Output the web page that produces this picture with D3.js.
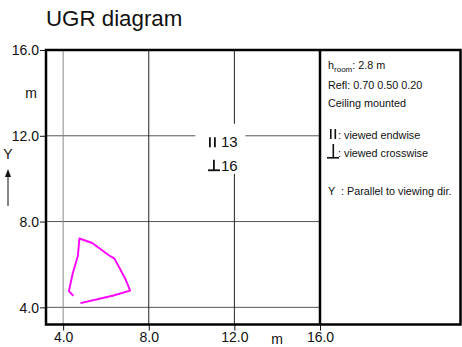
<!DOCTYPE html>
<html>
<head>
<meta charset="utf-8">
<script src="https://cdn.jsdelivr.net/npm/d3@7"></script>
<style>
  body { margin: 0; background: #fff; }
  svg { display: block; font-family: "Liberation Sans", Arial, sans-serif; }
</style>
</head>
<body>
<div class="ugr"></div>
<script>
// axis ticks (m)
const xTicks = [4, 8, 12, 16];
const yTicks = [4, 8, 12, 16];
// contour of the luminaire (open polyline), in m
const contourX = [4.48, 4.27, 4.45, 4.69, 4.76, 5.36, 6.12, 6.40, 6.91, 7.13, 6.31, 4.81];
const contourY = [4.53, 4.76, 5.59, 6.41, 7.21, 7.00, 6.44, 6.27, 5.32, 4.78, 4.54, 4.20];
// UGR values: endwise / crosswise
const ugrValues = [13, 16];
// info panel
const infoLines = ["Refl: 0.70 0.50 0.20", "Ceiling mounted"];
const legendLines = [": viewed endwise", ": viewed crosswise"];

let svgWidth = 462, svgHeight = 347;
let svg = d3.select(".ugr").append("svg")
  .attr("width", svgWidth)
  .attr("height", svgHeight);

let x = d3.scaleLinear().domain([3.2, 16]).range([46, 320]);
let y = d3.scaleLinear().domain([3.2, 16]).range([324.5, 50]);

// title
svg.append("text")
  .attr("x", 46).attr("y", 26)
  .attr("font-size", 22.3)
  .attr("fill", "#111")
  .text("UGR diagram");

// grid
svg.selectAll(".hgrid")
  .data(yTicks.filter(d => d < 16))
  .enter().append("line")
  .attr("x1", x(3.2)).attr("x2", x(16))
  .attr("y1", d => y(d)).attr("y2", d => y(d))
  .attr("stroke", "#555").attr("stroke-width", 1);
svg.selectAll(".vgrid")
  .data(xTicks.filter(d => d < 16))
  .enter().append("line")
  .attr("x1", d => x(d)).attr("x2", d => x(d))
  .attr("y1", y(16)).attr("y2", y(3.2))
  .attr("stroke", d => d === 4 ? "#888" : "#222").attr("stroke-width", 1);

// white box behind ugr labels
svg.append("rect")
  .attr("x", x(12) - 39).attr("y", y(12) - 12)
  .attr("width", 50).attr("height", 50)
  .attr("fill", "#fff");

// contour
let line = d3.line().x(d => x(d[0])).y(d => y(d[1]));
svg.append("path")
  .datum(contourX.map((d, i) => [d, contourY[i]]))
  .attr("d", line)
  .attr("fill", "none")
  .attr("stroke", "#ff00ff")
  .attr("stroke-width", 1.9)
  .attr("stroke-linejoin", "round");

// ugr labels
let ug = svg.append("g").attr("font-size", 15).attr("fill", "#111");
ugrValues.forEach(function (v, i) {
  let yy = y(12) + 11.5 + i * 23.5;
  if (i === 0) {
    ug.append("rect").attr("x", 209).attr("y", yy - 10).attr("width", 1.8).attr("height", 10).attr("fill", "#111");
    ug.append("rect").attr("x", 214).attr("y", yy - 10).attr("width", 1.8).attr("height", 10).attr("fill", "#111");
  } else {
    ug.append("rect").attr("x", 213).attr("y", yy - 11).attr("width", 1.8).attr("height", 11).attr("fill", "#111");
    ug.append("rect").attr("x", 208).attr("y", yy - 1.4).attr("width", 12).attr("height", 1.8).attr("fill", "#111");
  }
  ug.append("text").attr("x", 221).attr("y", yy).text(v);
});

// axes
let axisLeft = svg.append("g")
  .attr("transform", "translate(" + x(3.2) + ",0)")
  .call(d3.axisLeft(y).tickValues(yTicks).tickFormat(d3.format(".1f")).tickSize(6).tickSizeOuter(0));
let axisBottom = svg.append("g")
  .attr("transform", "translate(0," + y(3.2) + ")")
  .call(d3.axisBottom(x).tickValues(xTicks).tickFormat(d3.format(".1f")).tickSize(6).tickSizeOuter(0));
[axisLeft, axisBottom].forEach(function (a) {
  a.select(".domain").remove();
  a.selectAll("text").attr("font-size", 14).attr("fill", "#111")
    .attr("font-family", "'Liberation Sans', Arial, sans-serif");
  a.selectAll("line").attr("stroke", "#111");
});
axisLeft.selectAll("text").attr("x", -7).attr("dy", "0.35em");
axisBottom.selectAll("text").attr("y", 8).attr("dy", "0.71em");

// unit labels
svg.append("text").attr("x", 37).attr("y", y(14)).attr("dy", "0.35em")
  .attr("text-anchor", "end").attr("font-size", 14).attr("fill", "#111").text("m");
svg.append("text").attr("x", x(14)).attr("y", 344)
  .attr("text-anchor", "middle").attr("font-size", 14).attr("fill", "#111").text("m");

// Y arrow
svg.append("text").attr("x", 8).attr("y", 159)
  .attr("text-anchor", "middle").attr("font-size", 14).attr("fill", "#111").text("Y");
svg.append("line").attr("x1", 8).attr("x2", 8).attr("y1", 206).attr("y2", 175)
  .attr("stroke", "#111").attr("stroke-width", 1);
svg.append("path").attr("d", "M8,169 L5,177 L11,177 Z").attr("fill", "#111");

// X arrow (mostly below the visible area, as in the reference)
svg.append("line").attr("x1", 176).attr("x2", 188).attr("y1", 351).attr("y2", 351)
  .attr("stroke", "#111").attr("stroke-width", 1);
svg.append("path").attr("d", "M194,351 L186,348 L186,354 Z").attr("fill", "#111");
svg.append("text").attr("x", 197).attr("y", 358).attr("font-size", 14).attr("fill", "#111").text("X");

// frame
svg.append("rect")
  .attr("x", x(3.2)).attr("y", y(16))
  .attr("width", 460.5 - x(3.2)).attr("height", y(3.2) - y(16))
  .attr("fill", "none").attr("stroke", "#000").attr("stroke-width", 2.5);
svg.append("line")
  .attr("x1", x(16)).attr("x2", x(16)).attr("y1", y(16)).attr("y2", y(3.2))
  .attr("stroke", "#000").attr("stroke-width", 2.5);

// info panel
let info = svg.append("g").attr("font-size", 10.8).attr("fill", "#111");
let h = info.append("text").attr("x", 328).attr("y", 69);
h.append("tspan").text("h");
h.append("tspan").attr("font-size", 8).attr("dy", 2.5).text("room");
h.append("tspan").attr("dy", -2.5).text(": 2.8 m");
infoLines.forEach(function (t, i) {
  info.append("text").attr("x", 328).attr("y", 88.5 + i * 18.5).text(t);
});
// legend symbols
info.append("rect").attr("x", 330).attr("y", 129).attr("width", 1.6).attr("height", 10).attr("fill", "#111");
info.append("rect").attr("x", 334.5).attr("y", 129).attr("width", 1.6).attr("height", 10).attr("fill", "#111");
info.append("rect").attr("x", 332.5).attr("y", 144).attr("width", 1.6).attr("height", 14).attr("fill", "#111");
info.append("rect").attr("x", 327).attr("y", 157).attr("width", 12).attr("height", 1.6).attr("fill", "#111");
legendLines.forEach(function (t, i) {
  info.append("text").attr("x", 338).attr("y", 139 + i * 18).text(t);
});
info.append("text").attr("x", 328).attr("y", 195).text("Y");
info.append("text").attr("x", 341).attr("y", 195).text(": Parallel to viewing dir.");
</script>
</body>
</html>
